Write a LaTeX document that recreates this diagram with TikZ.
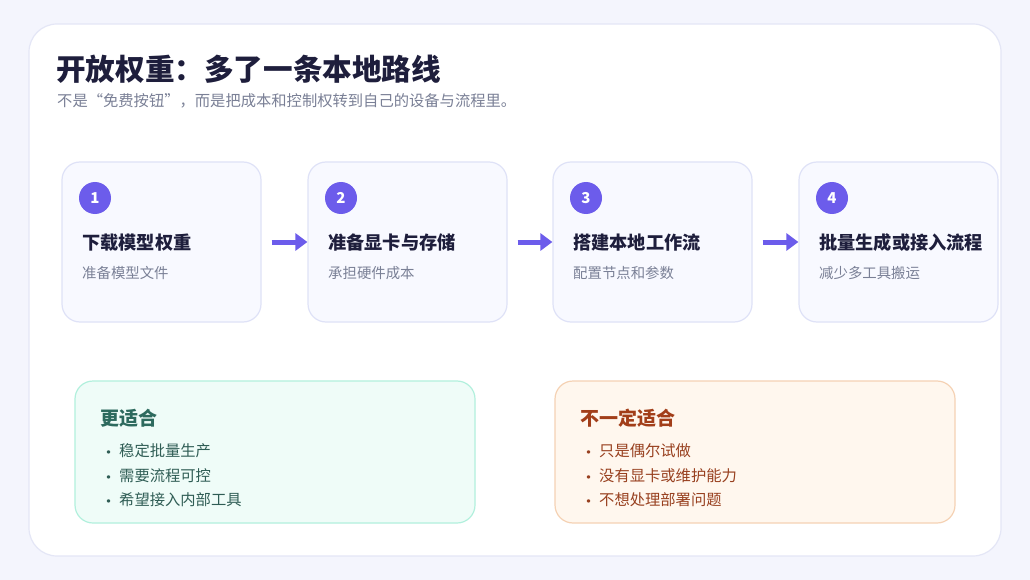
\documentclass[tikz,border=0pt]{standalone}
\usepackage{fontspec}
\newfontfamily\cjk{Noto Sans CJK SC}
\usetikzlibrary{arrows.meta}

\definecolor{pagebg}{HTML}{F4F5FD}
\definecolor{cardline}{HTML}{E4E6F6}
\definecolor{stepfill}{HTML}{F8F9FF}
\definecolor{stepline}{HTML}{DFE2F7}
\definecolor{violet}{HTML}{6C5CEB}
\definecolor{inkdark}{HTML}{1E1E3C}
\definecolor{inkgray}{HTML}{7A8096}
\definecolor{mintfill}{HTML}{EFFCF8}
\definecolor{mintline}{HTML}{B2F0DD}
\definecolor{minthead}{HTML}{2D6A5E}
\definecolor{minttext}{HTML}{2F5D55}
\definecolor{peachfill}{HTML}{FFF7EE}
\definecolor{peachline}{HTML}{F5D2B4}
\definecolor{peachhead}{HTML}{A23E19}
\definecolor{peachtext}{HTML}{98401F}

\tikzset{
  stepbox/.style={draw=stepline, line width=1.2pt, fill=stepfill, rounded corners=18pt,
    minimum width=199pt, minimum height=160pt},
  badge/.style={circle, fill=violet, minimum size=32pt, inner sep=0pt,
    text=white, font=\cjk\bfseries\fontsize{15}{15}\selectfont},
  stephead/.style={anchor=west, inner sep=0pt, text=inkdark, font=\cjk\bfseries\fontsize{18.2}{19}\selectfont},
  stepsub/.style={anchor=west, inner sep=0pt, text=inkgray, font=\cjk\fontsize{14.4}{15}\selectfont},
  flow/.style={violet, line width=5pt, -{Triangle[length=12pt,width=17pt]}, shorten <=10pt},
  fitbox/.style={line width=1.2pt, rounded corners=18pt, minimum width=400pt, minimum height=142pt},
  fithead/.style={anchor=west, inner sep=0pt, font=\cjk\bfseries\fontsize{19}{19}\selectfont},
  fititem/.style={anchor=west, inner sep=0pt, font=\cjk\fontsize{15.3}{16}\selectfont},
}
\newcommand\dotitem{{\normalfont\textbullet}\hspace{5pt}}

\begin{document}
\begin{tikzpicture}[x=1pt, y=-1pt]
  % page and white card
  \fill[pagebg] (0,0) rectangle (1030,580);
  \useasboundingbox (0,0) rectangle (1030,580);
  \draw[cardline, fill=white, line width=1.2pt, rounded corners=28pt] (29,24) rectangle (1001,556);

  % heading
  \node[anchor=west, inner sep=0pt, text=inkdark, font=\cjk\bfseries\fontsize{29.6}{30}\selectfont] (title) at (56,69) {开放权重：多了一条本地路线};
  \node[anchor=west, inner sep=0pt, text=inkgray, font=\cjk\fontsize{15.3}{16}\selectfont] (subtitle) at (57,101) {不是“免费按钮”，而是把成本和控制权转到自己的设备与流程里。};

  % four steps
  \foreach \i/\x/\head/\sub in {1/62/下载模型权重/准备模型文件,
      2/308/准备显卡与存储/承担硬件成本,
      3/553/搭建本地工作流/配置节点和参数,
      4/799/批量生成或接入流程/减少多工具搬运} {
    \node[stepbox] (s\i) at (\x+99.5,242) {};
    \node[badge] (b\i) at (\x+33,198) {\i};
    \node[stephead] (h\i) at (\x+20,243) {\head};
    \node[stepsub] (t\i) at (\x+20,273) {\sub};
  }
  \draw[flow] (s1.east) -- (s2.west);
  \draw[flow] (s2.east) -- (s3.west);
  \draw[flow] (s3.east) -- (s4.west);

  % who it suits
  \node[fitbox, draw=mintline, fill=mintfill] (good) at (275,452) {};
  \node[fithead, text=minthead] (goodhead) at (100,418) {更适合};
  \node[fititem, text=minttext] (g1) at (103,451) {\dotitem 稳定批量生产};
  \node[fititem, text=minttext] (g2) at (103,476) {\dotitem 需要流程可控};
  \node[fititem, text=minttext] (g3) at (103,500) {\dotitem 希望接入内部工具};

  \node[fitbox, draw=peachline, fill=peachfill] (bad) at (755,452) {};
  \node[fithead, text=peachhead] (badhead) at (580,418) {不一定适合};
  \node[fititem, text=peachtext] (p1) at (583,451) {\dotitem 只是偶尔试做};
  \node[fititem, text=peachtext] (p2) at (583,476) {\dotitem 没有显卡或维护能力};
  \node[fititem, text=peachtext] (p3) at (583,500) {\dotitem 不想处理部署问题};
\end{tikzpicture}
\end{document}
